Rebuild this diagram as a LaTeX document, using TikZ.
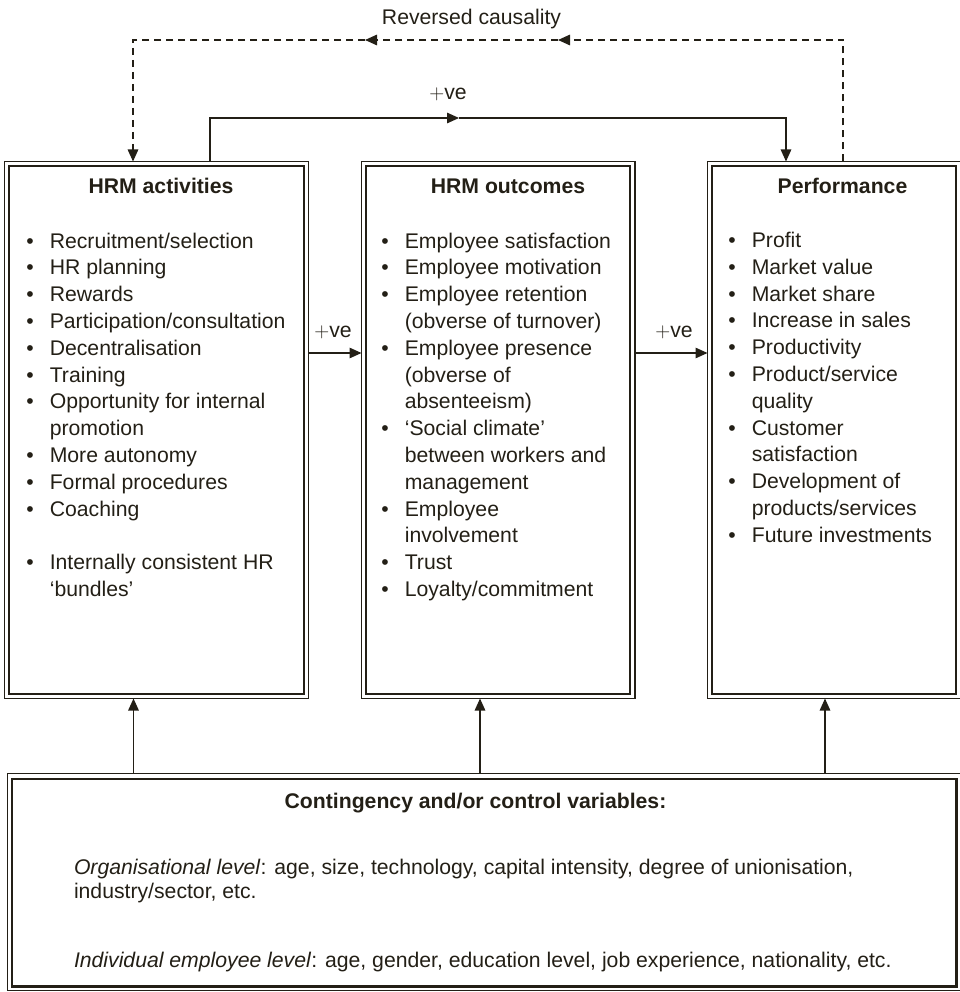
\documentclass[tikz,border=0pt]{standalone}
\usepackage{fontspec}
\setmainfont{Liberation Sans}
\usetikzlibrary{arrows.meta}
\definecolor{ink}{RGB}{35,31,22}

% one bulleted entry with a hanging indent
\newcommand\hrbullet{\par\hangindent=23.5pt\hangafter=1\noindent\makebox[23.5pt][l]{\textbullet}}
% a list set in a \vtop so that its base is the first baseline
\newcommand\hrlist[2]{\vtop{\hsize=#1\parskip=0pt\parindent=0pt\rightskip=0pt plus 1fil\relax #2\par}}

\tikzset{
  txt/.style={inner sep=0pt, outer sep=0pt, text=ink, font=\fontsize{21.2}{26.8}\selectfont},
  outerbox/.style={draw=ink, line width=1.3pt, inner sep=0pt, outer sep=0pt},
  innerline/.style={draw=ink, line width=2.2pt},
  link/.style={draw=ink, line width=1.4pt},
  headed/.style={-{Triangle[length=12pt,width=10.5pt]}},
  rev/.style={link, dash pattern=on 7pt off 5pt},
}

\begin{document}
\begin{tikzpicture}[x=1pt, y=-1pt]
\useasboundingbox (0,0) rectangle (959,992);

% the three main boxes and the contingency box (outer thin line)
\node[outerbox, minimum width=304pt, minimum height=537pt] (hra) at (156.5,430) {};
\node[outerbox, minimum width=273.5pt, minimum height=537pt] (hro) at (498.25,430) {};
\node[outerbox, minimum width=253.5pt, minimum height=537pt] (perf) at (834.25,430) {};
\node[outerbox, minimum width=953.7pt, minimum height=217.4pt] (ctrl) at (484.15,882) {};

% inner heavier lines of the double frames
\foreach \b in {hra,hro,perf}
  \draw[innerline] ([shift={(4.7,4.7)}]\b.north west) rectangle ([shift={(-4.7,-4.7)}]\b.south east);
\draw[innerline] ([shift={(4.6,5.5)}]ctrl.north west) rectangle ([shift={(-4.6,-4.2)}]ctrl.south east);

% box titles
\node[txt, anchor=base, font=\fontsize{21.2}{26.8}\selectfont\bfseries] (hraT) at (161,194) {HRM activities};
\node[txt, anchor=base, font=\fontsize{21.2}{26.8}\selectfont\bfseries] (hroT) at (508,194) {HRM outcomes};
\node[txt, anchor=base, font=\fontsize{21.2}{26.8}\selectfont\bfseries] (perfT) at (842.5,194) {Performance};
\node[txt, anchor=base, font=\fontsize{21.2}{26.8}\selectfont\bfseries] (ctrlT) at (475.5,808) {Contingency and/or control variables:};

% bulleted lists
\node[txt, anchor=base west] (hraL) at (26.3,248) {\hrlist{280pt}{%
  \hrbullet Recruitment/selection
  \hrbullet HR planning
  \hrbullet Rewards
  \hrbullet Participation/consultation
  \hrbullet Decentralisation
  \hrbullet Training
  \hrbullet Opportunity for internal\\promotion
  \hrbullet More autonomy
  \hrbullet Formal procedures
  \hrbullet Coaching
  \par\vskip 27pt
  \hrbullet Internally consistent HR\\‘bundles’}};

\node[txt, anchor=base west] (hroL) at (381.3,248) {\hrlist{250pt}{%
  \hrbullet Employee satisfaction
  \hrbullet Employee motivation
  \hrbullet Employee retention\\(obverse of turnover)
  \hrbullet Employee presence\\(obverse of\\absenteeism)
  \hrbullet ‘Social climate’\\between workers and\\management
  \hrbullet Employee\\involvement
  \hrbullet Trust
  \hrbullet Loyalty/commitment}};

\node[txt, anchor=base west] (perfL) at (728.3,247.5) {\hrlist{230pt}{%
  \hrbullet Profit
  \hrbullet Market value
  \hrbullet Market share
  \hrbullet Increase in sales
  \hrbullet Productivity
  \hrbullet Product/service\\quality
  \hrbullet Customer\\satisfaction
  \hrbullet Development of\\products/services
  \hrbullet Future investments}};

% contingency text
\node[txt, anchor=base west] (orgL) at (74,874) {\textit{Organisational level}: age, size, technology, capital intensity, degree of unionisation,};
\node[txt, anchor=base west] (orgL2) at (74,898) {industry/sector, etc.};
\node[txt, anchor=base west] (indL) at (74,967) {\textit{Individual employee level}: age, gender, education level, job experience, nationality, etc.};

% reversed causality loop (dashed)
\coordinate (rvR) at (843,40);
\coordinate (rvA) at (558,40);
\coordinate (rvB) at (365,40);
\coordinate (rvL) at (133,40);
\draw[rev, headed] (perf.north -| rvR) -- (rvR) -- (rvA);
\draw[rev, headed] (rvA) -- (rvB);
\draw[rev, headed] (rvB) -- (rvL) -- (hra.north -| rvL);
\node[txt, anchor=base] (revT) at (471.5,25) {Reversed causality};

% direct +ve link from activities to performance
\coordinate (pvL) at (210,118);
\coordinate (pvA) at (459,118);
\coordinate (pvR) at (786,118);
\draw[link, headed] (hra.north -| pvL) -- (pvL) -- (pvA);
\draw[link, headed] (pvA) -- (pvR) -- (perf.north -| pvR);
\node[txt, anchor=base] (pvT) at (448,100) {\(+\)ve};

% +ve links between neighbouring boxes
\coordinate (hy) at (0,353);
\draw[link, headed] (hra.east |- hy) -- (hro.west |- hy);
\draw[link, headed] (hro.east |- hy) -- (perf.west |- hy);
\node[txt, anchor=base] (p1T) at (333,337) {\(+\)ve};
\node[txt, anchor=base] (p2T) at (674,337) {\(+\)ve};

% contingency variables act on all three boxes
\coordinate (c1) at (133.5,0);
\coordinate (c2) at (480,0);
\coordinate (c3) at (825,0);
\draw[link, headed] (ctrl.north -| c1) -- (hra.south -| c1);
\draw[link, headed] (ctrl.north -| c2) -- (hro.south -| c2);
\draw[link, headed] (ctrl.north -| c3) -- (perf.south -| c3);
\end{tikzpicture}
\end{document}
